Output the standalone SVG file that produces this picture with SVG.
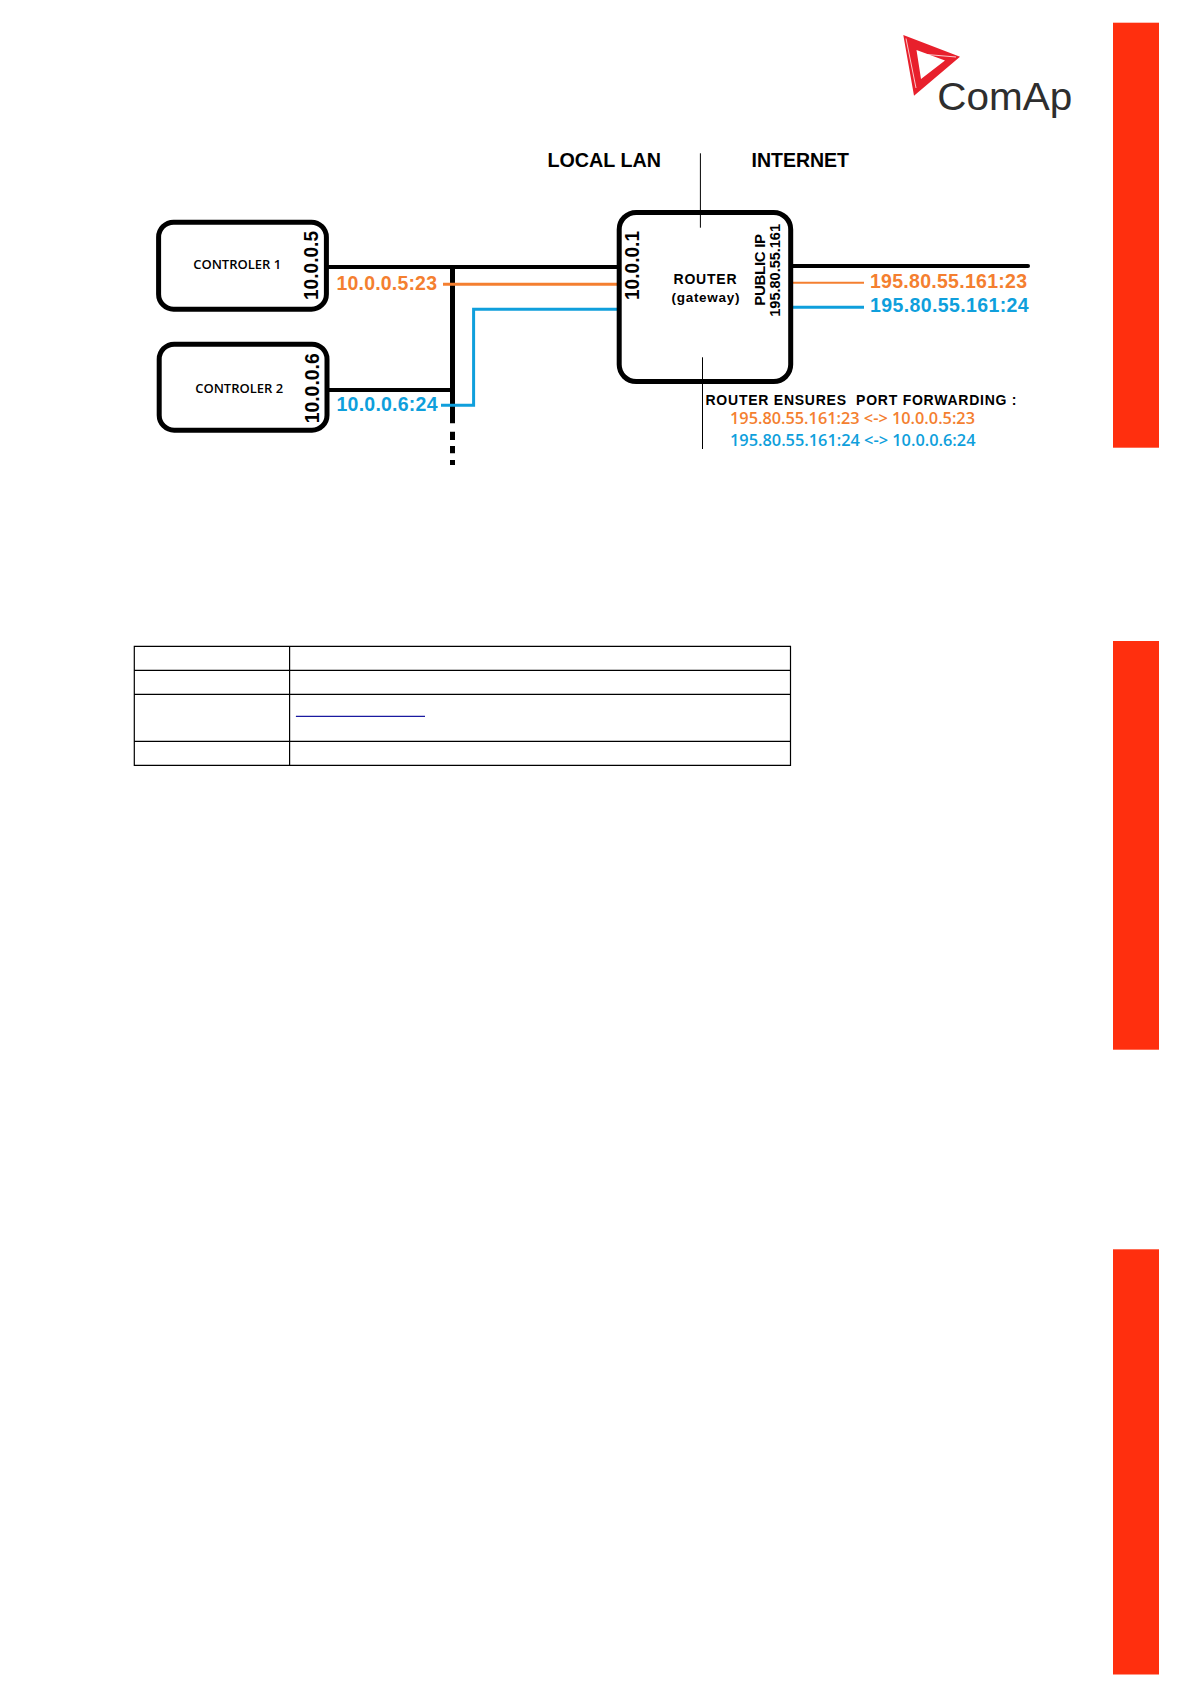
<svg xmlns="http://www.w3.org/2000/svg" width="1191" height="1684" viewBox="0 0 1191 1684">
<style>
.box{fill:#fff;stroke:#000;stroke-width:5}
.bk{fill:none;stroke:#000}
.or{fill:none;stroke:#f47f30}
.bl{fill:none;stroke:#0f9fdc}
.t{font-family:"Liberation Sans",Arial,sans-serif;font-weight:700;fill:#000}
.n{font-family:"Open Sans","Noto Sans",sans-serif;font-weight:600;fill:#000}
.c{font-family:"Open Sans","Noto Sans",sans-serif;font-weight:600}
.to{fill:#f47f30}
.tb{fill:#0f9fdc}
.red{fill:#ff2f0e}
</style>
<rect width="1191" height="1684" fill="#fff"/>
<g id="side-bars">
<rect class="red" x="1113" y="22.7" width="46" height="425"/>
<rect class="red" x="1113" y="641" width="46" height="408.7"/>
<rect class="red" x="1113" y="1249.3" width="46" height="425.2"/>
</g>
<g id="logo">
<path fill="#e8202c" fill-rule="evenodd" d="M903.3 35L960 56.7L914 95.7ZM916.5 50L921 79L945 60.5Z"/>
<path fill="none" stroke="#fff" stroke-opacity=".75" stroke-width="1" d="M906 38.5L916 88M921 54L956 57"/>
<text x="937.3" y="110" font-family="Liberation Sans,Arial,sans-serif" font-size="39" fill="#2e2e2e" textLength="135" lengthAdjust="spacingAndGlyphs">ComAp</text>
</g>
<g id="connectors">
<path class="bk" stroke-width="4" d="M327 267H618"/>
<path class="bk" stroke-width="4" d="M327 390H452.5"/>
<path class="bk" stroke-width="5" d="M452.5 265V423.3"/>
<path class="bk" stroke-width="5" d="M452.5 431.7V440M452.5 446V453.3M452.5 460V465"/>
<path class="or" stroke-width="3" d="M443 284.3H618"/>
<path class="bl" stroke-width="3" d="M441 405.3H473.6V309.3H618"/>
<path class="bk" stroke-width="4" stroke-linecap="round" d="M790 266H1028"/>
<path class="or" stroke-width="2" d="M793 282.7H864"/>
<path class="bl" stroke-width="3" d="M791 307.3H864"/>
</g>
<g id="controler-1">
<rect class="box" x="158.6" y="222.2" width="167.8" height="87" rx="15"/>
<text class="n" x="193.2" y="268.7" font-size="12" textLength="88" lengthAdjust="spacingAndGlyphs">CONTROLER 1</text>
<text class="t" transform="translate(318,300) rotate(-90)" font-size="19.5" textLength="69" lengthAdjust="spacingAndGlyphs">10.0.0.5</text>
</g>
<g id="controler-2">
<rect class="box" x="159.2" y="344.2" width="167.8" height="86" rx="15"/>
<text class="n" x="195.2" y="392.7" font-size="12" textLength="88" lengthAdjust="spacingAndGlyphs">CONTROLER 2</text>
<text class="t" transform="translate(318.6,423.3) rotate(-90)" font-size="19.5" textLength="70" lengthAdjust="spacingAndGlyphs">10.0.0.6</text>
</g>
<g id="router">
<rect class="box" x="619.2" y="212.4" width="171.5" height="169.2" rx="17"/>
<text class="t" transform="translate(639.3,300) rotate(-90)" font-size="19.5" textLength="69" lengthAdjust="spacingAndGlyphs">10.0.0.1</text>
<text class="t" x="673.5" y="284.3" font-size="14" textLength="63" lengthAdjust="spacing">ROUTER</text>
<text class="t" x="671.5" y="301.7" font-size="13.5" textLength="68" lengthAdjust="spacing">(gateway)</text>
<text class="t" transform="translate(765,305.7) rotate(-90)" font-size="15" textLength="71.7" lengthAdjust="spacing">PUBLIC IP</text>
<text class="t" transform="translate(780,316.7) rotate(-90)" font-size="14.5" textLength="92.7" lengthAdjust="spacing">195.80.55.161</text>
</g>
<g id="dividers">
<path class="bk" stroke-width="1" d="M700.4 153.3V227.7M702.5 357.3V449"/>
</g>
<g id="labels">
<text class="t" x="547.5" y="166.7" font-size="19.5" textLength="113.5" lengthAdjust="spacingAndGlyphs">LOCAL LAN</text>
<text class="t" x="751.5" y="166.7" font-size="19.5" textLength="97.5" lengthAdjust="spacingAndGlyphs">INTERNET</text>
<text class="t to" x="336.5" y="290" font-size="19.5" textLength="100.5" lengthAdjust="spacing">10.0.0.5:23</text>
<text class="t tb" x="336.5" y="411" font-size="19.5" textLength="101" lengthAdjust="spacing">10.0.0.6:24</text>
<text class="t to" x="870" y="288.3" font-size="19.5" textLength="157" lengthAdjust="spacing">195.80.55.161:23</text>
<text class="t tb" x="870" y="312.3" font-size="19.5" textLength="158.6" lengthAdjust="spacing">195.80.55.161:24</text>
<text class="t" x="705.5" y="404.7" font-size="14" textLength="311" lengthAdjust="spacing" xml:space="preserve">ROUTER ENSURES  PORT FORWARDING :</text>
<text class="c to" x="730" y="423.7" font-size="15.5" textLength="245" lengthAdjust="spacingAndGlyphs">195.80.55.161:23 &lt;-&gt; 10.0.0.5:23</text>
<text class="c tb" x="730" y="445.7" font-size="15.5" textLength="245.5" lengthAdjust="spacingAndGlyphs">195.80.55.161:24 &lt;-&gt; 10.0.0.6:24</text>
</g>
<g id="table">
<path class="bk" stroke-width="1.2" d="M134.3 646.3H790.5V765.3H134.3ZM134.3 670.3H790.5M134.3 694.3H790.5M134.3 741.3H790.5M289.6 646.3V765.3"/>
<path fill="none" stroke="#1a1aa0" stroke-width="1.2" d="M295.9 716.3H425"/>
</g>
</svg>
